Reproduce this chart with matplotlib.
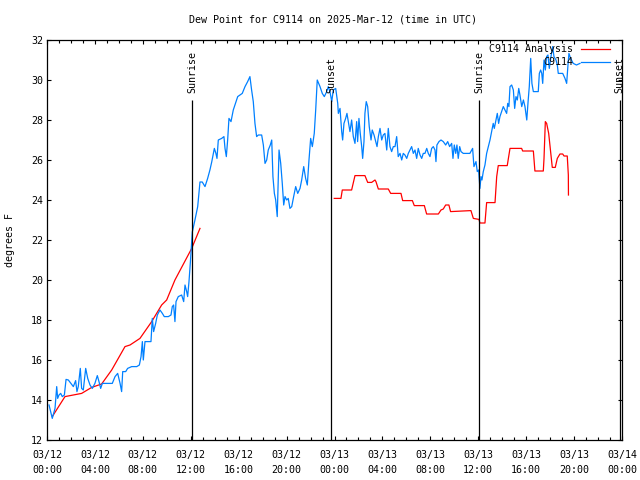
import numpy as np
import pandas as pd

import matplotlib
matplotlib.use('Agg')
import matplotlib.pyplot as plt
import matplotlib.dates as mdates

START = pd.Timestamp('2025-03-12 00:00')

# observations: hours since 03/12 00:00 UTC, dew point (F)
obs_hours = [
    0.17, 0.44, 0.67, 0.81, 0.89, 1.0, 1.14, 1.28, 1.45, 1.59, 1.78, 2.0, 2.2, 2.39, 2.5,
    2.61, 2.78, 2.89, 3.03, 3.12, 3.23, 3.4, 3.59, 3.78, 4.0, 4.2, 4.34, 4.48, 4.62, 4.84,
    5.12, 5.45, 5.68, 5.9, 6.1, 6.23, 6.32, 6.57, 6.73, 7.07, 7.49, 7.71, 7.85, 7.96, 8.04,
    8.18, 8.68, 8.79, 8.9, 9.07, 9.21, 9.43, 9.63, 9.79, 10.13, 10.35, 10.46, 10.57, 10.68,
    10.77, 10.96, 11.24, 11.41, 11.52, 11.66, 11.74, 11.85, 11.97, 12.13,
    12.35, 12.58, 12.77, 12.96, 13.19, 13.41, 13.6, 13.75, 13.97, 14.1, 14.19, 14.3, 14.58,
    14.77, 14.86, 14.97, 15.08, 15.19, 15.36, 15.55, 15.69, 15.92, 16.11, 16.3, 16.53, 16.75,
    16.94, 17.08, 17.22, 17.36, 17.5, 17.64, 17.92, 18.06, 18.2, 18.34, 18.47, 18.64, 18.76,
    18.86, 18.98, 19.09, 19.22, 19.37, 19.51, 19.64, 19.76, 19.87, 20.01, 20.14, 20.28, 20.43,
    20.59, 20.76, 20.93, 21.12, 21.26, 21.43, 21.59, 21.73, 21.87, 22.01, 22.15, 22.31, 22.43,
    22.56, 22.79, 22.98, 23.15, 23.35, 23.48, 23.62, 23.77, 23.9, 24.1,
    24.27, 24.32, 24.46, 24.6, 24.68, 24.79, 24.93, 25.04, 25.15, 25.29, 25.43, 25.57, 25.71,
    25.85, 25.93, 26.04, 26.15, 26.27, 26.35, 26.46, 26.54, 26.65, 26.77, 26.9, 27.05, 27.15,
    27.3, 27.44, 27.55, 27.66, 27.8, 27.94, 28.07, 28.21, 28.36, 28.49, 28.63, 28.77, 28.91,
    29.05, 29.19, 29.32, 29.47, 29.61, 29.74, 29.88, 30.03, 30.16, 30.3, 30.44, 30.58, 30.72,
    30.86, 30.99, 31.14, 31.28, 31.41, 31.55, 31.7, 31.83, 31.97, 32.11, 32.25, 32.39, 32.47,
    32.55, 32.72, 32.89, 33.08, 33.28, 33.45, 33.61, 33.78, 33.89, 34.0, 34.12, 34.22, 34.33,
    34.45, 34.56, 34.75, 35.03,
    35.3, 35.53, 35.64, 35.81, 35.92, 36.03, 36.14, 36.23, 36.31, 36.42, 36.56, 36.7, 36.84,
    36.98, 37.12, 37.25, 37.34, 37.48, 37.59, 37.7, 37.81, 37.95, 38.09, 38.23, 38.37, 38.46,
    38.56, 38.65, 38.79, 38.93, 39.04, 39.15, 39.26, 39.38, 39.48, 39.63, 39.77, 39.9, 40.05,
    40.16, 40.26, 40.38, 40.48, 40.6, 40.76, 41.01, 41.1, 41.21, 41.3, 41.38, 41.49, 41.6,
    41.71, 41.82, 41.93, 42.07, 42.21, 42.32, 42.49, 42.6, 42.68, 42.82, 43.05, 43.24, 43.38,
    43.49, 43.57, 43.71, 43.93, 44.2, 44.49,
]
obs_dewpt = [
    13.75, 13.08, 13.58, 14.67, 14.08, 14.25, 14.33, 14.17, 14.25, 15.03, 15.0, 14.83, 14.67, 14.97, 14.42,
    14.67, 15.58, 14.58, 14.5, 15.0, 15.58, 15.08, 14.75, 14.58, 14.83, 15.22, 14.92, 14.58, 14.83, 14.83,
    14.83, 14.83, 15.17, 15.33, 14.83, 14.42, 15.42, 15.42, 15.58, 15.67, 15.67, 15.75, 16.17, 16.92, 16.0,
    16.92, 16.92, 18.08, 17.42, 17.83, 18.25, 18.5, 18.33, 18.17, 18.17, 18.25, 18.67, 18.75, 17.92,
    18.92, 19.17, 19.25, 18.92, 19.75, 19.42, 19.17, 19.9, 20.9, 22.4,
    23.0, 23.67, 24.9, 24.9, 24.67, 25.08, 25.5, 25.9, 26.58, 26.33, 26.08, 27.0, 27.08,
    27.17, 26.58, 26.17, 27.0, 28.08, 27.92, 28.5, 28.75, 29.17, 29.25, 29.33, 29.67, 29.92,
    30.17, 29.5, 28.92, 27.83, 27.17, 27.25, 27.25, 26.75, 25.83, 26.0, 26.5, 26.75, 27.0,
    25.17, 24.33, 24.0, 23.17, 26.5, 25.83, 24.83, 23.75, 24.17, 24.0, 24.08, 23.58, 23.67,
    24.17, 24.67, 24.33, 24.58, 25.0, 25.67, 25.08, 24.75, 26.0, 27.08, 26.67, 27.33, 28.5,
    30.0, 29.67, 29.33, 29.17, 29.42, 29.67, 29.42, 28.92, 29.5, 29.58,
    28.83, 28.33, 28.58, 27.42, 27.0, 27.83, 28.08, 28.33, 27.92, 27.42, 28.0, 27.17, 26.83,
    27.92, 26.92, 28.08, 27.33, 26.67, 26.08, 26.92, 28.33, 28.92, 28.67, 27.67, 27.0, 27.5,
    27.25, 26.92, 26.67, 27.17, 27.58, 27.0, 27.25, 27.33, 26.5, 27.58, 26.67, 26.42, 26.67,
    26.67, 27.17, 26.17, 26.33, 26.0, 26.33, 26.25, 26.08, 26.33, 26.5, 26.67, 26.33, 26.5,
    26.08, 26.58, 26.25, 26.08, 26.33, 26.33, 26.58, 26.33, 26.17, 26.58, 26.67, 26.5, 25.92,
    26.75, 26.92, 27.0, 26.92, 26.75, 26.92, 26.67, 26.83, 26.08, 26.75, 26.33, 26.75, 26.08,
    26.67, 26.42, 26.33, 26.33,
    26.33, 26.58, 25.67, 25.92, 25.42, 25.5, 24.58, 25.17, 25.0, 25.42, 25.75, 26.33, 26.67,
    27.0, 27.42, 27.83, 27.58, 28.0, 28.33, 27.83, 28.17, 28.42, 28.67, 28.5, 28.33, 28.83,
    28.67, 29.67, 29.75, 29.5, 28.58, 29.17, 29.0, 29.58, 29.25, 28.67, 29.0, 28.67, 28.0,
    28.92, 29.67, 31.08, 29.83, 29.42, 29.42, 29.42, 30.33, 30.5, 30.33, 29.83, 31.0, 30.5,
    31.17, 31.25, 30.58, 31.17, 31.67, 31.17, 31.0, 30.75, 30.33, 30.33, 30.33, 30.08, 29.83,
    30.75, 31.33, 31.08, 30.83, 30.75, 30.83,
]

# analysis series, NaN splits the two runs
ana_hours = [
    0.44, 1.5, 2.89, 3.73, 4.56, 5.4, 6.51, 6.93, 7.76, 8.74, 9.57, 9.99, 10.68, 12.08, 12.77,
    18.0,
    23.98, 24.54, 24.65, 25.43, 25.71, 26.54, 26.77, 27.1, 27.38, 27.46, 27.66, 28.49, 28.69,
    29.55, 29.69, 30.5, 30.66, 31.5, 31.69, 32.67, 32.89, 33.08, 33.28, 33.55, 33.69, 35.39,
    35.59, 36.06, 36.14, 36.56, 36.7, 37.4, 37.54, 37.67, 38.42, 38.65, 39.62, 39.71, 40.6,
    40.73, 41.43, 41.49, 41.6, 41.71, 41.88, 42.04, 42.18, 42.43, 42.6, 42.82, 43.05, 43.16,
    43.43, 43.52, 43.53,
]
ana_dewpt = [
    13.17, 14.17, 14.33, 14.63, 14.8, 15.5, 16.67, 16.75, 17.08, 17.92, 18.75, 19.0, 20.0, 21.58, 22.58,
    np.nan,
    24.08, 24.08, 24.5, 24.5, 25.22, 25.22, 24.88, 24.88, 25.0, 24.92, 24.55, 24.55, 24.33,
    24.33, 23.97, 23.97, 23.72, 23.72, 23.3, 23.3, 23.5, 23.55, 23.75, 23.75, 23.42, 23.47,
    23.08, 23.03, 22.85, 22.85, 23.87, 23.87, 25.17, 25.72, 25.72, 26.58, 26.58, 26.45, 26.45,
    25.45, 25.45, 26.08, 27.92, 27.83, 27.33, 26.42, 25.63, 25.63, 26.08, 26.3, 26.3, 26.2,
    26.2, 25.25, 24.25,
]

sun_hours = [12.13, 23.71, 36.09, 47.8]
sun_labels = ['Sunrise', 'Sunset', 'Sunrise', 'Sunset']

tick_hours = list(range(0, 49, 4))

BLUE = '#0080ff'
RED = '#ff0000'
FONT = 'DejaVu Sans Mono'
FS = 7.2

plt.rcParams['font.family'] = FONT
plt.rcParams['font.size'] = FS


def to_time(hours):
    return START + pd.to_timedelta(np.asarray(hours, dtype=float), unit='h')


fig = plt.figure(figsize=(6.4, 4.8), dpi=100)
ax = fig.add_axes([47 / 640, 40 / 480, 575 / 640, 400 / 480])

ax.plot(to_time(ana_hours), ana_dewpt, color=RED, lw=0.9)
ax.plot(to_time(obs_hours), obs_dewpt, color=BLUE, lw=0.9)

for h, lab in zip(sun_hours, sun_labels):
    t = to_time([h])[0]
    ax.vlines(t, 12, 29, color='black', lw=0.9)
    ax.text(t, 29.35, lab, rotation=90, ha='center', va='bottom', fontsize=FS)

ax.set_xlim(START, START + pd.Timedelta(hours=48))
ax.set_ylim(12, 32)

ticks = to_time(tick_hours)
ax.set_xticks(ticks)
ax.set_xticklabels([t.strftime('%m/%d\n%H:%M') for t in ticks], linespacing=1.7)
ax.xaxis.set_minor_locator(mdates.HourLocator())
ax.set_yticks(range(12, 33, 2))

ax.tick_params(which='both', direction='in', top=True, right=True, width=0.8)
ax.tick_params(which='major', length=3.0)
ax.tick_params(which='minor', length=2.0)
ax.tick_params(axis='x', pad=7)
ax.tick_params(axis='y', pad=3)
for s in ax.spines.values():
    s.set_linewidth(0.9)

# legend drawn by hand: right-aligned texts, sample lines after
ax.text(0.9153, 0.9775, 'C9114 Analysis', transform=ax.transAxes, ha='right', va='center')
ax.plot([0.928, 0.979], [0.9775, 0.9775], transform=ax.transAxes, color=RED, lw=0.9)
ax.text(0.9153, 0.944, 'C9114', transform=ax.transAxes, ha='right', va='center')
ax.plot([0.928, 0.979], [0.944, 0.944], transform=ax.transAxes, color=BLUE, lw=0.9)

fig.text(0.52, 1 - 20 / 480, 'Dew Point for C9114 on 2025-Mar-12 (time in UTC)',
         ha='center', va='center', fontsize=FS)
fig.text(10 / 640, 0.5, 'degrees F', rotation=90, ha='center', va='center', fontsize=FS)

fig.savefig('out.png', dpi=100)
